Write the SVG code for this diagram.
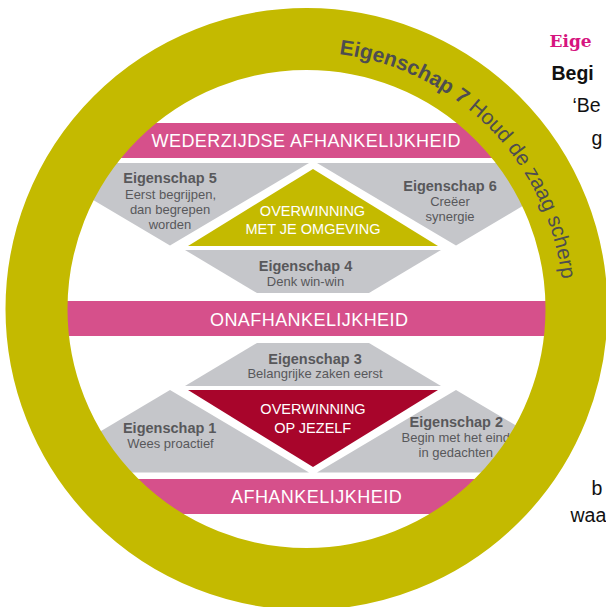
<svg xmlns="http://www.w3.org/2000/svg" width="606" height="607" viewBox="0 0 606 607">
<style>
.band{fill:#D6508B}
.gray{fill:#C5C6CA}
.bt{font-family:"Liberation Sans",Arial,sans-serif;font-size:18px;fill:#fff;text-anchor:middle}
.wt{font-family:"Liberation Sans",Arial,sans-serif;font-size:14.5px;fill:#fff;text-anchor:middle}
.gh{font-family:"Liberation Sans",Arial,sans-serif;font-size:14.5px;font-weight:bold;fill:#58585B;text-anchor:middle}
.gs{font-family:"Liberation Sans",Arial,sans-serif;font-size:13px;fill:#58585B;text-anchor:middle}
.side{font-family:"Liberation Sans",Arial,sans-serif;font-size:19.5px;fill:#111}
.ring7{font-family:"Liberation Sans",Arial,sans-serif;font-size:21px;fill:#4D4D50}
</style>
<defs>
<clipPath id="inner"><circle cx="306.5" cy="309" r="242"/></clipPath>
<path id="arc7" d="M 306.5 52 A 257 257 0 0 1 563.5 309"/>
</defs>
<rect width="606" height="607" fill="#fff"/>
<g id="side-text">
<text x="549.5" y="47" style="font-family:'DejaVu Serif','Liberation Serif',serif;font-size:17px;font-weight:bold;fill:#D6157F">Eige</text>
<text x="551.5" y="80" class="side" style="font-weight:bold">Begi</text>
<text x="572.5" y="111.5" class="side">‘Be</text>
<text x="591.5" y="144.5" class="side">g</text>
<text x="591.5" y="495" class="side">b</text>
<text x="570.5" y="521.5" class="side">waa</text>
</g>
<g clip-path="url(#inner)">
<g id="band-wederzijdse"><rect class="band" x="40" y="123" width="540" height="35"/>
<text class="bt" x="306" y="147" textLength="309" lengthAdjust="spacing">WEDERZIJDSE AFHANKELIJKHEID</text></g>
<g id="eigenschap5"><polygon class="gray" points="31,163 309,163 170,245.5"/>
<text class="gh" x="170" y="183.3">Eigenschap 5</text>
<text class="gs" x="170.5" y="198.5">Eerst begrijpen,</text>
<text class="gs" x="170" y="213.5">dan begrepen</text>
<text class="gs" x="170" y="229">worden</text></g>
<g id="eigenschap6"><polygon class="gray" points="317,163 595,163 456,245.5"/>
<text class="gh" x="450" y="190.5">Eigenschap 6</text>
<text class="gs" x="450" y="206">Creëer</text>
<text class="gs" x="450" y="221">synergie</text></g>
<g id="overwinning-omgeving"><polygon fill="#C4BA00" points="313,169 438,246 188,246"/>
<text class="wt" x="312.5" y="215.7">OVERWINNING</text>
<text class="wt" x="313" y="234">MET JE OMGEVING</text></g>
<g id="eigenschap4"><polygon class="gray" points="185,250 441,250 369,293 257,293"/>
<text class="gh" x="305.5" y="271">Eigenschap 4</text>
<text class="gs" x="305.5" y="286">Denk win-win</text></g>
<g id="band-onafhankelijkheid"><rect class="band" x="40" y="301" width="540" height="35"/>
<text class="bt" x="309" y="325.7" textLength="198" lengthAdjust="spacing">ONAFHANKELIJKHEID</text></g>
<g id="eigenschap3"><polygon class="gray" points="257,343 369,343 441,386 185,386"/>
<text class="gh" x="315" y="364">Eigenschap 3</text>
<text class="gs" x="315" y="378.3">Belangrijke zaken eerst</text></g>
<g id="overwinning-jezelf"><polygon fill="#A8052B" points="188,390 438,390 313,467"/>
<text class="wt" x="313" y="414.3">OVERWINNING</text>
<text class="wt" x="312.7" y="433.3">OP JEZELF</text></g>
<g id="eigenschap1"><polygon class="gray" points="170,390 309,472.5 31,472.5"/>
<text class="gh" x="169.7" y="433.3">Eigenschap 1</text>
<text class="gs" x="170.5" y="448.3">Wees proactief</text></g>
<g id="eigenschap2"><polygon class="gray" points="456,390 595,472.5 317,472.5"/>
<text class="gh" x="456.3" y="426.7">Eigenschap 2</text>
<text class="gs" x="455.8" y="441.7">Begin met het eind</text>
<text class="gs" x="455.8" y="456.7">in gedachten</text></g>
<g id="band-afhankelijkheid"><rect class="band" x="40" y="479" width="540" height="35"/>
<text class="bt" x="316.3" y="503.3" textLength="170.7" lengthAdjust="spacing">AFHANKELIJKHEID</text></g>
</g>
<g id="eigenschap7">
<circle cx="306.5" cy="309" r="270" fill="none" stroke="#C4BA00" stroke-width="62"/>
<text class="ring7"><textPath href="#arc7" startOffset="32.7"><tspan font-weight="bold">Eigenschap 7 </tspan>Houd de zaag scherp</textPath></text>
</g>
</svg>
